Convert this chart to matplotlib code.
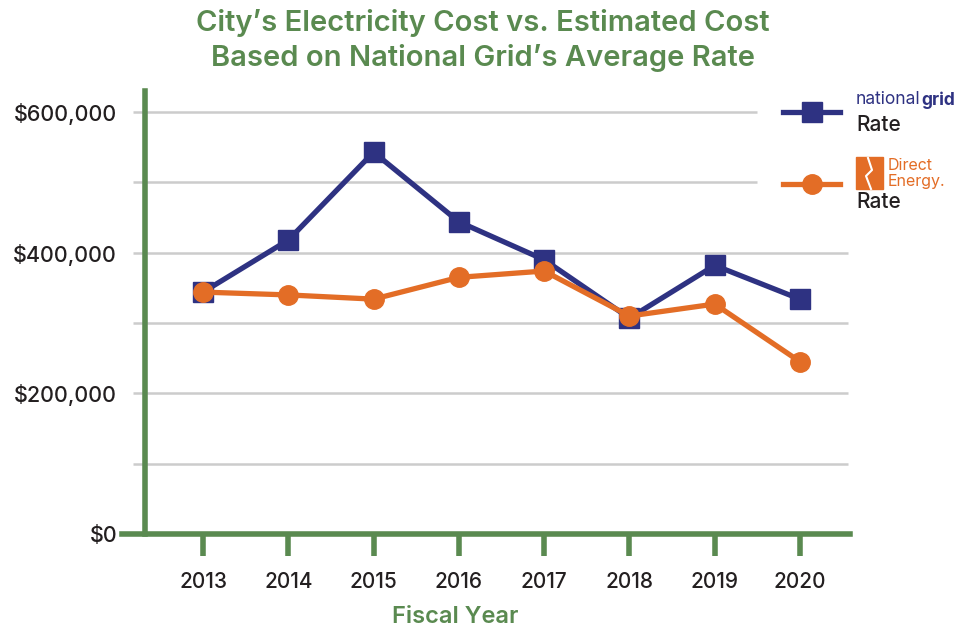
import matplotlib
matplotlib.use("Agg")
from matplotlib import pyplot as plt
from matplotlib.lines import Line2D
from matplotlib.patches import Rectangle

# data
years = [2013, 2014, 2015, 2016, 2017, 2018, 2019, 2020]
grid_rate = [344000, 418000, 543000, 444000, 390000, 307000, 382000, 334000]
direct_rate = [344000, 340000, 334000, 365000, 374000, 310000, 327000, 245000]
ytick_vals = [0, 200000, 400000, 600000]
ytick_labels = ["$0", "$200,000", "$400,000", "$600,000"]
grid_vals = [100000, 200000, 300000, 400000, 500000, 600000]

green = "#5a8a50"
blue = "#2e3282"
orange = "#e36d26"
dark = "#231f20"

plt.rcParams['font.family'] = ['Inter', 'DejaVu Sans']

fig = plt.figure(figsize=(9.66, 6.29), dpi=100)
ax = fig.add_axes([122/966, 95/629, (850-122)/966, (534-91)/629])

ax.set_xlim(2012.05, 2020.586)
ax.set_ylim(0, 630000)

# grid lines (top two stop short for the legend)
for v in grid_vals:
    right = 2019.50 if v >= 500000 else 2020.56
    ax.hlines(v, 2012.18, right, color="#cccccc", lw=1.8, zorder=1)

ax.plot(years, grid_rate, color=blue, lw=3.8, marker="s", ms=14,
        zorder=3, clip_on=False)
ax.plot(years, direct_rate, color=orange, lw=3.8, marker="o", ms=14,
        zorder=4, clip_on=False)

for s in ["top", "right"]:
    ax.spines[s].set_visible(False)
ax.spines["left"].set_position(("data", 2012.32))
ax.spines["left"].set_color(green)
ax.spines["left"].set_linewidth(4)
ax.spines["bottom"].set_color(green)
ax.spines["bottom"].set_linewidth(4)
ax.spines["left"].set_zorder(5)

ax.set_xticks(years)
ax.set_xticklabels([str(y) for y in years], fontsize=15, color=dark,
                   fontweight="medium")
ax.tick_params(axis="x", length=16, width=4, color=green, pad=11)
ax.set_yticks(ytick_vals)
ax.set_yticklabels(ytick_labels, fontsize=15.5, color=dark,
                   fontweight="medium")
ax.tick_params(axis="y", length=0, pad=20)

ax.set_xlabel("Fiscal Year", fontsize=17, color=green,
              fontweight="semibold")
ax.xaxis.set_label_coords(0.457, -0.163)

fig.text(0.5, 0.985, "City’s Electricity Cost vs. Estimated Cost\nBased on National Grid’s Average Rate",
         ha="center", va="top", fontsize=21, color=green, fontweight="semibold",
         linespacing=1.28)

# legend
fig.add_artist(Line2D([783/966, 812/966, 840/966], [1 - 112/629] * 3,
                      color=blue, lw=3.8, marker="s", ms=14, markevery=[1],
                      transform=fig.transFigure))
fig.add_artist(Line2D([783/966, 812/966, 840/966], [1 - 184/629] * 3,
                      color=orange, lw=3.8, marker="o", ms=14, markevery=[1],
                      transform=fig.transFigure))
t_nat = fig.text(856/966, 1 - 100/629, "national", color=blue, fontsize=12.5,
                 va="center", ha="left")
r = fig.canvas.get_renderer()
bb = t_nat.get_window_extent(r)
fig.text(bb.x1 / fig.bbox.width + 0.5/966, 1 - 100/629, "grid", color=blue,
         fontsize=12.5, va="center", ha="left", fontweight="bold")
fig.text(856/966, 1 - 125/629, "Rate", color=dark, fontsize=15,
         va="center", ha="left", fontweight="medium")
fig.add_artist(Rectangle((856/966, 1 - 189/629), 27/966, 32/629,
                         color=orange, transform=fig.transFigure))
fig.add_artist(Line2D([868/966, 872/966, 866/966, 871/966],
                      [1 - 158/629, 1 - 170/629, 1 - 176/629, 1 - 189/629],
                      color="white", lw=1.5, transform=fig.transFigure))
fig.text(888/966, 1 - 165/629, "Direct", color=orange, fontsize=11.5,
         va="center", ha="left")
fig.text(888/966, 1 - 181/629, "Energy.", color=orange, fontsize=11.5,
         va="center", ha="left")
fig.text(856/966, 1 - 202/629, "Rate", color=dark, fontsize=15,
         va="center", ha="left", fontweight="medium")

fig.savefig("out.png", dpi=100)
